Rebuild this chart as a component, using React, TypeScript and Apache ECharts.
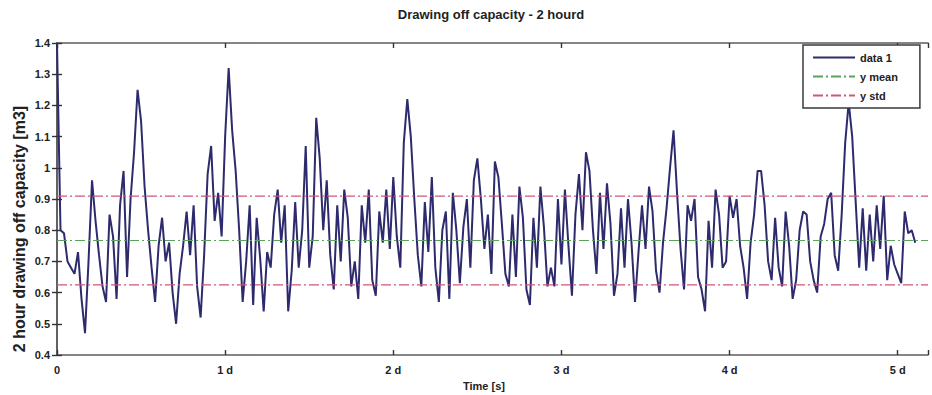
import React, { useEffect, useRef } from 'react';
import * as echarts from 'echarts';

const chartTitle = 'Drawing off capacity - 2 hourd';
const xAxisTitle = 'Time [s]';
const yAxisTitle = '2 hour drawing off capacity [m3]';
const seriesNames = ['data 1', 'y mean', 'y std'];

// one sample every 30 minutes (time axis in days)
const sampleStepDays = 1 / 48;

const drawOffValues = [
  1.40, 0.80, 0.79, 0.70, 0.68, 0.66, 0.73, 0.58, 0.47, 0.70,
  0.96, 0.83, 0.72, 0.62, 0.57, 0.85, 0.78, 0.58, 0.88, 0.99,
  0.65, 0.90, 1.05, 1.25, 1.15, 0.94, 0.80, 0.68, 0.57, 0.75,
  0.84, 0.70, 0.76, 0.60, 0.50, 0.66, 0.75, 0.86, 0.72, 0.88,
  0.62, 0.52, 0.72, 0.98, 1.07, 0.83, 0.92, 0.78, 1.10, 1.32,
  1.12, 0.99, 0.80, 0.57, 0.70, 0.88, 0.56, 0.84, 0.71, 0.54,
  0.73, 0.68, 0.85, 0.93, 0.76, 0.88, 0.54, 0.67, 0.89, 0.68,
  0.80, 1.07, 0.68, 0.78, 1.16, 1.03, 0.80, 0.96, 0.72, 0.61,
  0.88, 0.70, 0.93, 0.84, 0.62, 0.70, 0.58, 0.88, 0.76, 0.93,
  0.64, 0.59, 0.86, 0.76, 0.93, 0.74, 0.97, 0.78, 0.68, 1.08,
  1.22, 1.10, 0.90, 0.72, 0.62, 0.89, 0.73, 0.97, 0.68, 0.57,
  0.80, 0.86, 0.58, 0.92, 0.80, 0.63, 0.81, 0.90, 0.68, 0.96,
  1.03, 0.90, 0.74, 0.85, 0.66, 1.02, 0.97, 0.82, 0.66, 0.62,
  0.85, 0.65, 0.94, 0.84, 0.61, 0.56, 0.84, 0.68, 0.94, 0.81,
  0.62, 0.68, 0.62, 0.90, 0.69, 0.93, 0.75, 0.59, 0.85, 0.98,
  0.80, 1.05, 0.99, 0.80, 0.66, 0.92, 0.74, 0.95, 0.82, 0.59,
  0.66, 0.87, 0.68, 0.90, 0.76, 0.57, 0.73, 0.88, 0.74, 0.94,
  0.86, 0.67, 0.60, 0.76, 0.87, 1.00, 1.12, 0.92, 0.74, 0.61,
  0.88, 0.83, 0.90, 0.65, 0.61, 0.54, 0.83, 0.68, 0.93, 0.85,
  0.68, 0.70, 0.91, 0.84, 0.90, 0.75, 0.68, 0.58, 0.76, 0.85,
  0.99, 0.99, 0.88, 0.70, 0.64, 0.84, 0.68, 0.62, 0.86, 0.75,
  0.58, 0.64, 0.80, 0.86, 0.85, 0.70, 0.64, 0.60, 0.78, 0.82,
  0.90, 0.92, 0.72, 0.67, 0.85, 1.08, 1.21, 1.10, 0.89, 0.68,
  0.87, 0.67, 0.85, 0.70, 0.88, 0.74, 0.91, 0.64, 0.75, 0.69,
  0.66, 0.63, 0.86, 0.79, 0.80, 0.76,
];

const meanValue = 0.767;
const stdValue = 0.142;

const xMin = 0;
const xMax = 5.18;
const xInterval = 1;
const xTickLabels = ['0', '1 d', '2 d', '3 d', '4 d', '5 d'];

const yMin = 0.4;
const yMax = 1.4;
const yInterval = 0.1;

export default function App() {
  const ref = useRef<HTMLDivElement>(null);

  useEffect(() => {
    if (!ref.current) return;
    const chart = echarts.init(ref.current, null, { renderer: 'svg' });
    const font = "'Liberation Sans', Arial, sans-serif";
    const axisColor = '#5c5c5c';
    const tickColor = '#333';
    const textColor = '#222';

    const dataPoints = drawOffValues.map((v, i) => [i * sampleStepDays, v]);
    const meanLine = [[xMin, meanValue], [xMax, meanValue]];
    const stdUpper = [[xMin, meanValue + stdValue], [xMax, meanValue + stdValue]];
    const stdLower = [[xMin, meanValue - stdValue], [xMax, meanValue - stdValue]];

    const xFmt = (v: number) => {
      const r = Math.round(v);
      if (Math.abs(v - r) > 1e-6) return '';
      return xTickLabels[r] ?? '';
    };
    const yFmt = (v: number) => String(Math.round(v * 10) / 10);

    const axisLine = { show: true, lineStyle: { color: axisColor, width: 1.6 } };
    const axisTick = { show: true, inside: true, length: 5, lineStyle: { color: tickColor, width: 1.4 } };
    const labelStyle = { color: textColor, fontSize: 11, fontWeight: 'bold' as const, fontFamily: font };
    const dashDot = [10, 3, 2, 3];

    const option: any = {
      animation: false,
      backgroundColor: '#ffffff',
      grid: { left: 57, right: 4, top: 43, bottom: 40, containLabel: false },
      graphic: [
        {
          type: 'text', x: 491, y: 14,
          style: { text: chartTitle, fontSize: 13, fontWeight: 'bold', fontFamily: font, fill: textColor, align: 'center', verticalAlign: 'middle' },
        },
        {
          type: 'text', x: 484, y: 386,
          style: { text: xAxisTitle, fontSize: 11, fontWeight: 'bold', fontFamily: font, fill: textColor, align: 'center', verticalAlign: 'middle' },
        },
        {
          type: 'text', x: 19, y: 229, rotation: Math.PI / 2,
          style: { text: yAxisTitle, fontSize: 16, fontWeight: 'bold', fontFamily: font, fill: textColor, align: 'center', verticalAlign: 'middle' },
        },
      ],
      legend: {
        data: seriesNames,
        orient: 'vertical',
        left: 803,
        top: 45,
        itemWidth: 42,
        itemHeight: 12,
        itemGap: 8,
        padding: [7, 22, 7, 9],
        borderColor: '#3a3a3a',
        borderWidth: 1.5,
        borderRadius: 0,
        backgroundColor: '#ffffff',
        selectedMode: false,
        itemStyle: { opacity: 0 },
        textStyle: { ...labelStyle },
      },
      xAxis: [
        {
          type: 'value', min: xMin, max: xMax, interval: xInterval, position: 'bottom',
          axisLine, axisTick, splitLine: { show: false },
          axisLabel: { ...labelStyle, formatter: xFmt, margin: 9 },
        },
        {
          type: 'value', min: xMin, max: xMax, interval: xInterval, position: 'top',
          axisLine, axisTick, splitLine: { show: false }, axisLabel: { show: false },
        },
      ],
      yAxis: [
        {
          type: 'value', min: yMin, max: yMax, interval: yInterval, position: 'left',
          axisLine, axisTick, splitLine: { show: false },
          axisLabel: { ...labelStyle, formatter: yFmt, margin: 7 },
        },
        {
          type: 'value', min: yMin, max: yMax, interval: yInterval, position: 'right',
          axisLine, axisTick, splitLine: { show: false }, axisLabel: { show: false },
        },
      ],
      series: [
        {
          name: seriesNames[0], type: 'line', data: dataPoints, symbol: 'none',
          xAxisIndex: 0, yAxisIndex: 0,
          lineStyle: { color: '#2d2b6d', width: 2 }, itemStyle: { color: '#2d2b6d' },
        },
        {
          name: seriesNames[1], type: 'line', data: meanLine, symbol: 'none',
          xAxisIndex: 0, yAxisIndex: 0,
          lineStyle: { color: '#5aa35a', width: 1.2, type: dashDot }, itemStyle: { color: '#5aa35a' },
        },
        {
          name: seriesNames[2], type: 'line', data: stdUpper, symbol: 'none',
          xAxisIndex: 0, yAxisIndex: 0,
          lineStyle: { color: '#d0557a', width: 1.2, type: dashDot }, itemStyle: { color: '#d0557a' },
        },
        {
          name: seriesNames[2], type: 'line', data: stdLower, symbol: 'none',
          xAxisIndex: 0, yAxisIndex: 0,
          lineStyle: { color: '#d0557a', width: 1.2, type: dashDot }, itemStyle: { color: '#d0557a' },
        },
      ],
    };

    chart.setOption(option);
    return () => chart.dispose();
  }, []);

  return (
    <div
      ref={ref}
      style={{ position: 'fixed', left: 0, top: 0, width: 932, height: 395, background: '#fff' }}
    />
  );
}
